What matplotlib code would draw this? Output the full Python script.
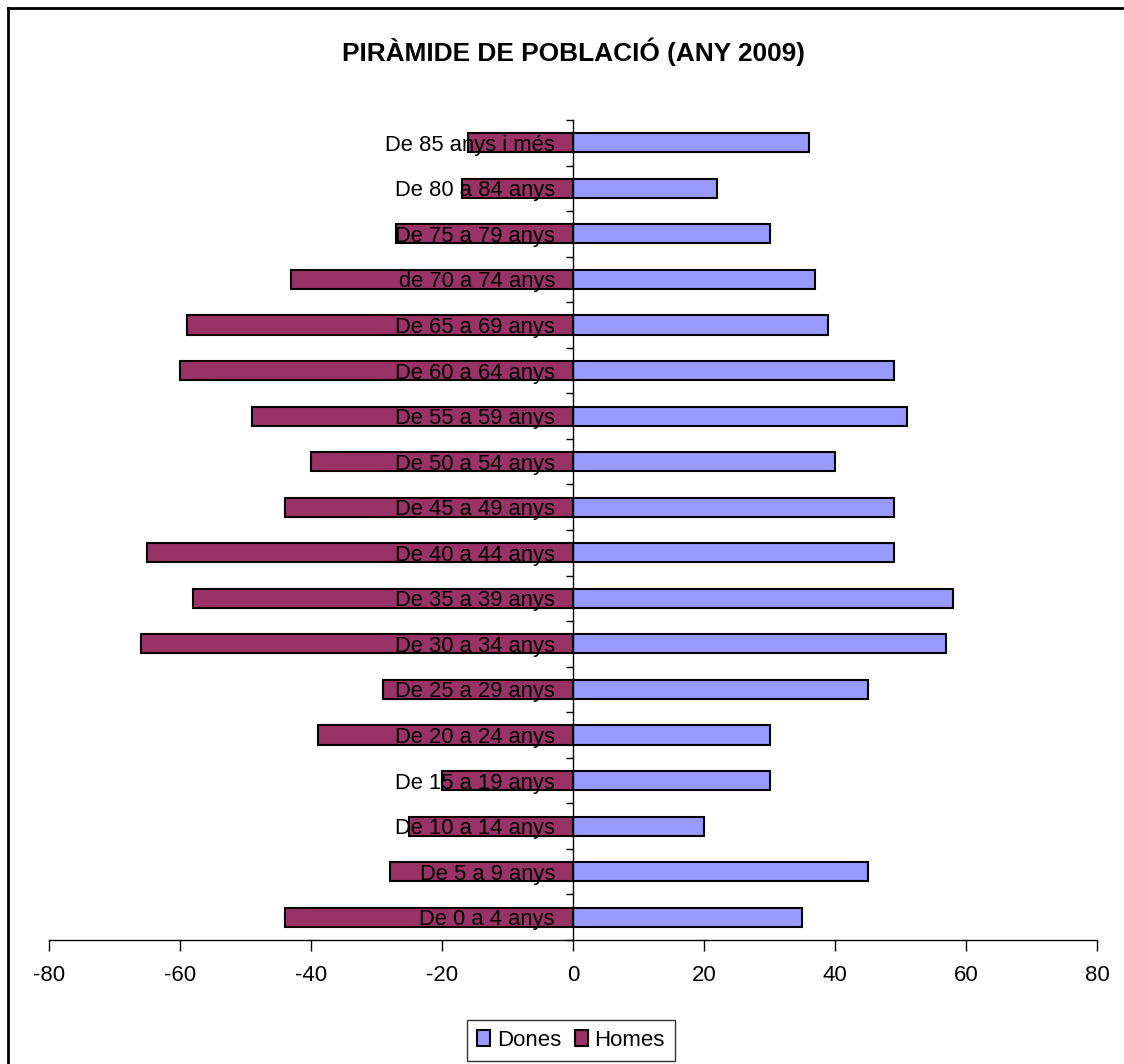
import matplotlib
matplotlib.use("Agg")
import matplotlib.pyplot as plt
from matplotlib.lines import Line2D
import numpy as np

plt.rcParams['font.family'] = ['Liberation Sans', 'DejaVu Sans']

# Age groups, youngest first (drawn bottom to top)
age_groups = [
    "De 0 a 4 anys", "De 5 a 9 anys", "De 10 a 14 anys", "De 15 a 19 anys",
    "De 20 a 24 anys", "De 25 a 29 anys", "De 30 a 34 anys", "De 35 a 39 anys",
    "De 40 a 44 anys", "De 45 a 49 anys", "De 50 a 54 anys", "De 55 a 59 anys",
    "De 60 a 64 anys", "De 65 a 69 anys", "de 70 a 74 anys", "De 75 a 79 anys",
    "De 80 a 84 anys", "De 85 anys i més",
]
dones = [35, 45, 20, 30, 30, 45, 57, 58, 49, 49, 40, 51, 49, 39, 37, 30, 22, 36]
homes = [44, 28, 25, 20, 39, 29, 66, 58, 65, 44, 40, 49, 60, 59, 43, 27, 17, 16]
x_ticks = [-80, -60, -40, -20, 0, 20, 40, 60, 80]

W, H = 1124, 1064
fig = plt.figure(figsize=(W / 100, H / 100), dpi=100)
ax = fig.add_axes([49 / W, 1 - 940 / H, (1097 - 49) / W, (940 - 120) / H])

y = np.arange(len(age_groups))
bh = 0.42
ax.barh(y, [-v for v in homes], height=bh, color="#993366",
        edgecolor="black", linewidth=1.5, label="Homes", zorder=1)
ax.barh(y, dones, height=bh, color="#9999FF",
        edgecolor="black", linewidth=1.5, label="Dones", zorder=1)

ax.set_xlim(-80, 80)
ax.set_ylim(-0.5, len(age_groups) - 0.5)
ax.set_axisbelow(False)

for s in ("top", "right"):
    ax.spines[s].set_visible(False)
ax.spines["left"].set_position(("data", 0))
ax.spines["left"].set_zorder(3)
ax.spines["left"].set_linewidth(1.0)
ax.spines["bottom"].set_linewidth(1.0)

ax.set_xticks(x_ticks)
ax.set_xticklabels([str(v) for v in x_ticks], fontsize=16)
ax.tick_params(axis="x", direction="out", length=8, width=1.0, pad=10)

ax.set_yticks(y)
ax.set_yticklabels(age_groups, fontsize=15.8)
ax.set_yticks(np.arange(len(age_groups) + 1) - 0.5, minor=True)
ax.tick_params(axis="y", which="major", length=0, pad=13)
ax.tick_params(axis="y", which="minor", direction="out", length=5, width=1.0)
for lab in ax.get_yticklabels():
    lab.set_zorder(4)

fig.text(573 / W, 1 - 52 / H, "PIRÀMIDE DE POBLACIÓ (ANY 2009)",
         ha="center", va="center", fontsize=18.9, fontweight="bold")

handles, labels = ax.get_legend_handles_labels()
order = [1, 0]
leg = fig.legend([handles[i] for i in order], [labels[i] for i in order],
                 loc="center", bbox_to_anchor=(571 / W, 1 - 1040 / H),
                 ncol=2, fontsize=16, frameon=True, fancybox=False,
                 edgecolor="black", handlelength=0.6, handleheight=0.7,
                 handletextpad=0.3, columnspacing=0.6, borderpad=0.45)
leg.get_frame().set_linewidth(1.0)

# Chart frame (left and top edges)
fig.add_artist(Line2D([8 / W, 8 / W], [0, 1 - 8 / H], color="black",
                      linewidth=2.0, transform=fig.transFigure))
fig.add_artist(Line2D([8 / W, 1], [1 - 8 / H, 1 - 8 / H], color="black",
                      linewidth=2.0, transform=fig.transFigure))

fig.savefig("out.png", dpi=100)
